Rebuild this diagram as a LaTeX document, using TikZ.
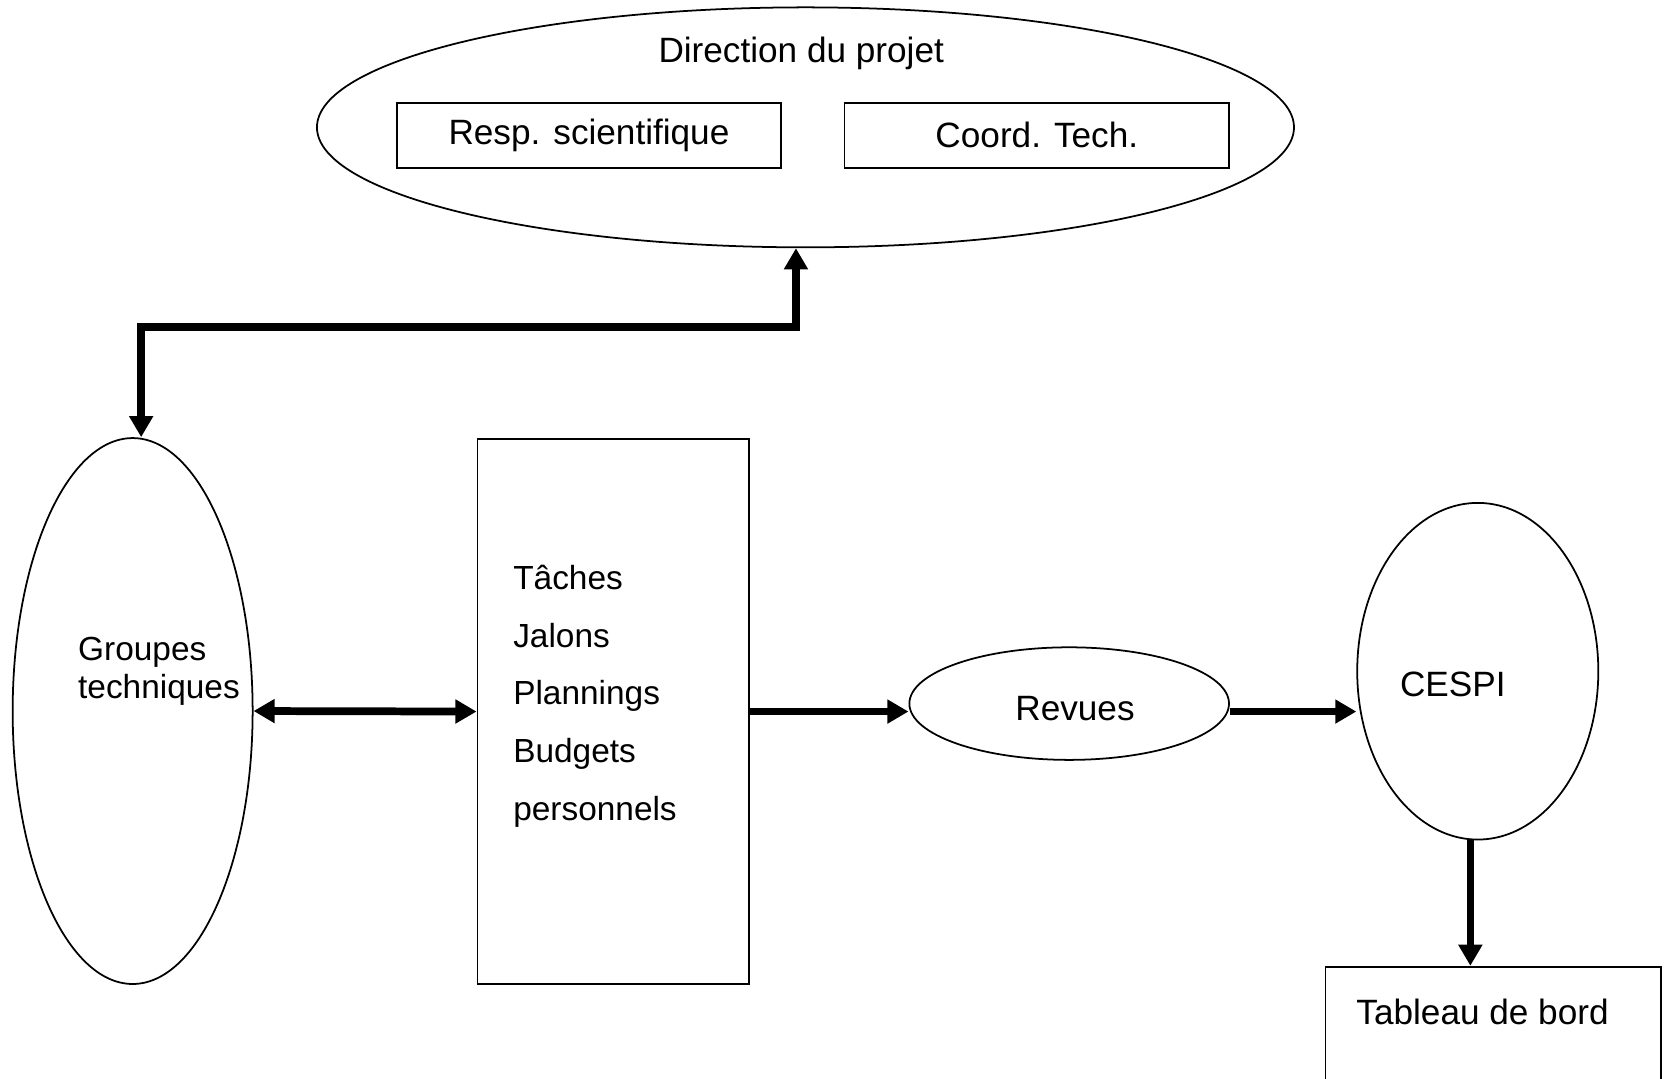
\documentclass[tikz,border=0pt]{standalone}
\usepackage{fontspec}
\setmainfont{Liberation Sans}
\usetikzlibrary{shapes.geometric,arrows.meta}

\begin{document}
\begin{tikzpicture}[x=0.010612cm, y=-0.010612cm,
		every node/.style={font=\fontsize{10}{12}\selectfont},
		thinline/.style={draw, line width=0.5pt, inner sep=0pt},
		oval/.style={thinline, ellipse},
		box/.style={thinline, rectangle},
		listlabel/.style={anchor=west, align=left, inner sep=0pt},
		link/.style={line width=2.2pt, -{Triangle[length=6pt,width=6.5pt]}},
		dlink/.style={line width=2.2pt, {Triangle[length=6pt,width=6.5pt]}-{Triangle[length=6pt,width=6.5pt]}}]
		\useasboundingbox (0,0) rectangle (1568,1016);

		\node[oval, minimum width=9.763cm, minimum height=2.398cm] (direction) at (759,120) {};
		\node (directionLabel) at (755,50) {Direction du projet};
		\node[box, minimum width=3.842cm, minimum height=0.647cm] (respScient) at (555,127.5) {Resp. scientifique};
		\node[box, minimum width=3.842cm, minimum height=0.647cm] (coordTech) at (977,127.5) {Coord. Tech.};

		\node[oval, minimum width=2.398cm, minimum height=5.455cm] (groupes) at (125,670) {};
		\node[listlabel, font=\fontsize{9.5}{10.8}\selectfont] (groupesLabel) at (73,633) {Groupes\\techniques};

		\node[box, minimum width=2.717cm, minimum height=5.444cm] (taches) at (578,670.5) {};
		\node[listlabel, font=\fontsize{9.5}{16.4}\selectfont] (tachesLabel) at (483,656) {Tâches\\Jalons\\Plannings\\Budgets\\personnels};

		\node[oval, minimum width=3.194cm, minimum height=1.125cm] (revues) at (1007.5,663) {};
		\node (revuesLabel) at (1013,668) {Revues};

		\node[oval, minimum width=2.409cm, minimum height=3.364cm] (cespi) at (1392.5,632.5) {};
		\node (cespiLabel) at (1369,645) {CESPI};

		\node[box, minimum width=3.353cm, minimum height=1.698cm] (tableau) at (1407,991) {};
		\node (tableauLabel) at (1397,954) {Tableau de bord};

		\coordinate (bend) at (440,308);

		\draw[dlink] ([xshift=0.085cm]groupes.north) |- (bend) -| ([xshift=-0.095cm]direction.south);
		\draw[dlink] (groupes.east) -- (taches.west);
		\draw[link] (taches.east) -- (taches.east -| revues.west);
		\draw[link] (taches.east -| revues.east) -- (taches.east -| cespi.west);
		\draw[link] ([xshift=-0.074cm]cespi.south) -- ([xshift=-0.074cm]cespi.south |- tableau.north);
	\end{tikzpicture}
\end{document}
